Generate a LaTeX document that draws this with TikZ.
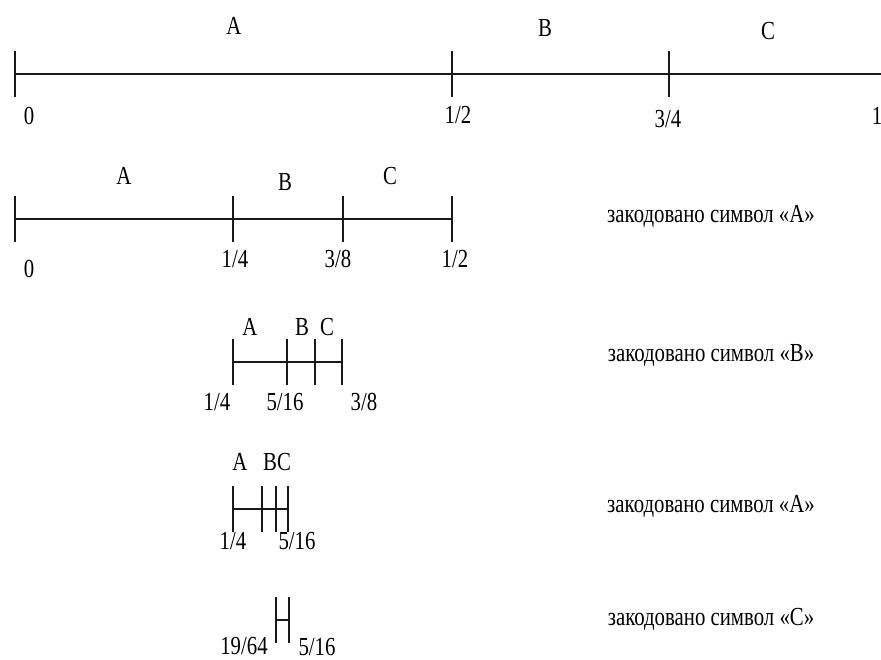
\documentclass[tikz,border=0pt]{standalone}
\usepackage{fontspec}
\setmainfont{Liberation Serif}[FakeStretch=0.8]
\begin{document}
\begin{tikzpicture}[x=1pt,y=-1pt,
  axis/.style={line width=1.5pt,black!90},
  lbl/.style={inner sep=0pt,font=\fontsize{26}{30}\selectfont},
  note/.style={inner sep=0pt,anchor=base,font=\fontsize{26}{30}\selectfont}]
\useasboundingbox (0,0) rectangle (881,660);
% tick half-height
\def\th{23}
% ---- interval [0,1)
\coordinate (a0) at (15,74);
\coordinate (a1) at (452,74);
\coordinate (a2) at (669,74);
\coordinate (a3) at (885,74);
\draw[axis] (a0) -- (a3);
\foreach \p in {a0,a1,a2} \draw[axis] (\p) ++(0,-\th) -- ++(0,2*\th);
\node[lbl] (a0l) at (29,116) {0};
\node[lbl] (a1l) at (458,115) {1/2};
\node[lbl] (a2l) at (668,119) {3/4};
\node[lbl] (a3l) at (877,116) {1};
\node[lbl] (aA) at (234,26) {A};
\node[lbl] (aB) at (545,28) {B};
\node[lbl] (aC) at (768,31) {C};
% ---- interval [0,1/2)
\coordinate (b0) at (15,219);
\coordinate (b1) at (233,219);
\coordinate (b2) at (343,219);
\coordinate (b3) at (452,219);
\draw[axis] (b0) -- (b3);
\foreach \p in {b0,b1,b2,b3} \draw[axis] (\p) ++(0,-\th) -- ++(0,2*\th);
\node[lbl] (b0l) at (29,269) {0};
\node[lbl] (b1l) at (235,259) {1/4};
\node[lbl] (b2l) at (338,259) {3/8};
\node[lbl] (b3l) at (455,259) {1/2};
\node[lbl] (bA) at (124,176) {A};
\node[lbl] (bB) at (285,182) {B};
\node[lbl] (bC) at (390,176) {C};
\node[note] (bN) at (711,223) {закодовано символ «A»};
% ---- interval [1/4,3/8)
\coordinate (c0) at (233,362);
\coordinate (c1) at (287,362);
\coordinate (c2) at (315,362);
\coordinate (c3) at (342,362);
\draw[axis] (c0) -- (c3);
\foreach \p in {c0,c1,c2,c3} \draw[axis] (\p) ++(0,-\th) -- ++(0,2*\th);
\node[lbl] (c0l) at (217,402) {1/4};
\node[lbl] (c1l) at (285,402) {5/16};
\node[lbl] (c3l) at (364,402) {3/8};
\node[lbl] (cA) at (250,327) {A};
\node[lbl] (cB) at (302,327) {B};
\node[lbl] (cC) at (327,327) {C};
\node[note] (cN) at (711,362) {закодовано символ «B»};
% ---- interval [1/4,5/16)
\coordinate (d0) at (233,509);
\coordinate (d1) at (262,509);
\coordinate (d2) at (276,509);
\coordinate (d3) at (288,509);
\draw[axis] (d0) -- (d3);
\foreach \p in {d0,d1,d2,d3} \draw[axis] (\p) ++(0,-\th) -- ++(0,2*\th);
\node[lbl] (d0l) at (233,541) {1/4};
\node[lbl] (d3l) at (297,541) {5/16};
\node[lbl] (dA) at (240,462) {A};
\node[lbl] (dBC) at (277,462) {BC};
\node[note] (dN) at (711,512) {закодовано символ «A»};
% ---- interval [19/64,5/16)
\coordinate (e0) at (276,620);
\coordinate (e1) at (289,620);
\draw[axis] (e0) -- (e1);
\foreach \p in {e0,e1} \draw[axis] (\p) ++(0,-\th) -- ++(0,2*\th);
\node[lbl] (e0l) at (244,646) {19/64};
\node[lbl] (e1l) at (317,647) {5/16};
\node[note] (eN) at (711,625) {закодовано символ «C»};
\end{tikzpicture}
\end{document}
